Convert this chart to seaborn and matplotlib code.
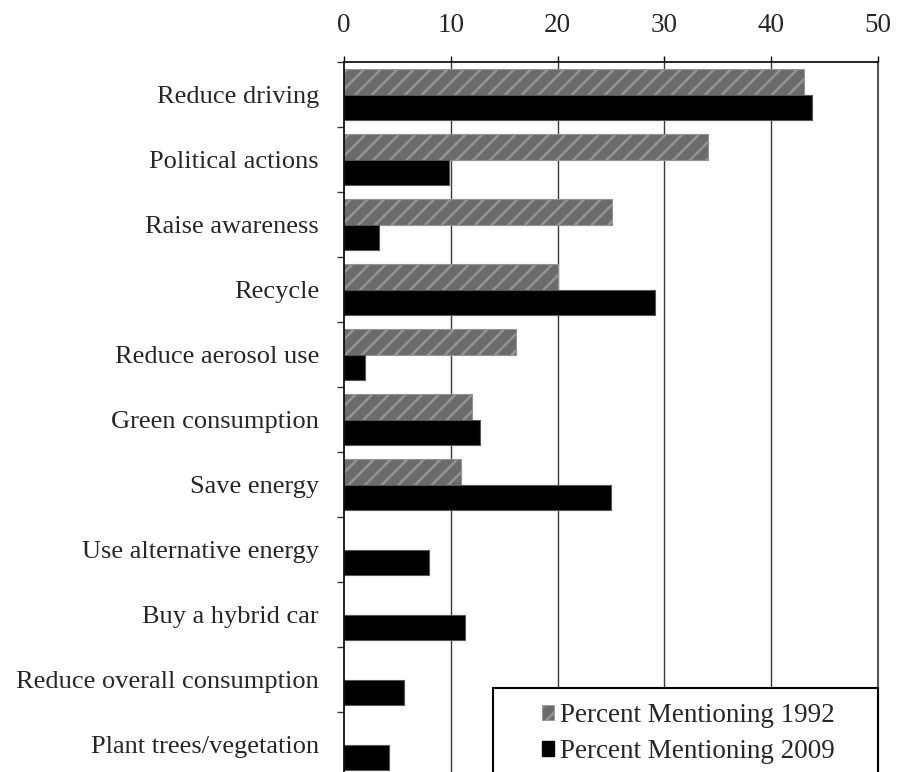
import numpy as np
import pandas as pd
import matplotlib
matplotlib.use("Agg")
import matplotlib.pyplot as plt
import seaborn as sns
from matplotlib.patches import Rectangle, Patch

categories = ["Reduce driving", "Political actions", "Raise awareness", "Recycle",
              "Reduce aerosol use", "Green consumption", "Save energy",
              "Use alternative energy", "Buy a hybrid car",
              "Reduce overall consumption", "Plant trees/vegetation"]
series_names = ["Percent Mentioning 1992", "Percent Mentioning 2009"]
values_1992 = [43.1, 34.1, 25.1, 20.0, 16.1, 12.0, 11.0, np.nan, np.nan, np.nan, np.nan]
values_2009 = [43.8, 9.8, 3.3, 29.1, 2.0, 12.7, 25.0, 8.0, 11.3, 5.6, 4.2]
x_ticks = [0, 10, 20, 30, 40, 50]

df = pd.DataFrame({
    "category": categories * 2,
    "series": [series_names[0]] * len(categories) + [series_names[1]] * len(categories),
    "value": values_1992 + values_2009,
})

sns.set_style("white")
plt.rcParams["font.family"] = ["Liberation Serif", "DejaVu Serif"]
plt.rcParams["hatch.linewidth"] = 1.8

fig = plt.figure(figsize=(9, 7.72), dpi=100)
ax = fig.add_axes([344 / 900, 1 - 777 / 772, 534 / 900, 715 / 772])

gray_face = "#6b6b6b"
gray_edge = "#949494"
sns.barplot(data=df, y="category", x="value", hue="series", order=categories,
            hue_order=series_names, orient="h", width=0.77,
            palette=[gray_face, "black"], edgecolor=gray_edge, linewidth=0.8,
            legend=False, ax=ax)

for bar in ax.containers[0]:
    bar.set_hatch("//")
    bar.set_edgecolor(gray_edge)
for bar in ax.containers[1]:
    bar.set_edgecolor("#555555")

ax.set_xlim(0, 50)
ax.set_ylim(len(categories) - 0.5, -0.5)
ax.set_xticks(x_ticks)
ax.xaxis.tick_top()
ax.xaxis.set_label_position("top")
ax.set_xlabel("")
ax.set_ylabel("")
ax.tick_params(axis="x", which="major", top=True, bottom=False, length=4, width=1,
               color="black", direction="out", pad=13, labelsize=19.5)
ax.tick_params(axis="y", which="major", left=False, length=0, pad=18, labelsize=19)
ax.set_yticks(np.arange(-0.5, len(categories), 1.0), minor=True)
ax.tick_params(axis="y", which="minor", left=True, length=5, width=1, color="#333333",
               direction="out")

for v in x_ticks[1:-1]:
    ax.axvline(v, color="#3a3a3a", linewidth=1.0, zorder=0)

for side in ["left", "top"]:
    ax.spines[side].set_color("black")
    ax.spines[side].set_linewidth(1.2)
ax.spines["right"].set_color("#555555")
ax.spines["right"].set_linewidth(1.5)
ax.spines["bottom"].set_visible(False)

# Legend box
box_x0 = (493 - 344) / 534
box_y1 = (777 - 688) / 715
rect = Rectangle((box_x0, -0.05), 1 - box_x0, box_y1 + 0.05, transform=ax.transAxes,
                 facecolor="white", edgecolor="black", linewidth=1.5, clip_on=False, zorder=5)
ax.add_patch(rect)
handles = [Patch(facecolor=gray_face, edgecolor=gray_edge, hatch="//", linewidth=0.5),
           Patch(facecolor="black", edgecolor="black")]
leg = ax.legend(handles, series_names, loc="upper left", frameon=False,
                bbox_to_anchor=((542 - 344) / 534, (777 - 703) / 715),
                fontsize=19.5, handlelength=0.45, handleheight=0.45, handletextpad=0.2,
                labelspacing=0.41, borderaxespad=0, borderpad=0)
leg.set_zorder(6)

fig.savefig("out.png", dpi=100)
